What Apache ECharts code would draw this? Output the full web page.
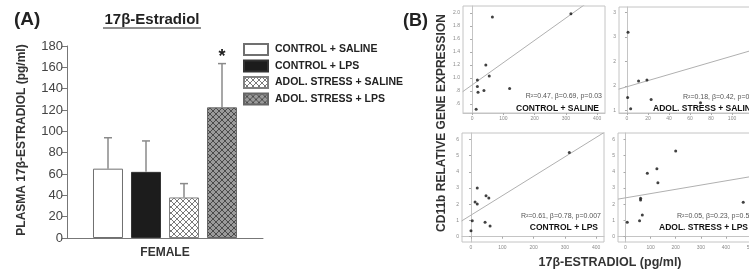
<!DOCTYPE html>
<html><head><meta charset="utf-8">
<script src="https://cdn.jsdelivr.net/npm/echarts@6/dist/echarts.min.js"></script>
<style>html,body{margin:0;padding:0;background:#fff;overflow:hidden}#c{width:800px;height:276px}</style>
</head><body><div id="c"></div>
<script>
// ---------- Panel A data ----------
const groups = ['CONTROL + SALINE', 'CONTROL + LPS', 'ADOL. STRESS + SALINE', 'ADOL. STRESS + LPS'];
const sexCategory = ['FEMALE'];
const estradiolMean = [65, 62, 38, 122.5];
const estradiolErr = [29, 29, 13, 41];
const significance = ['', '', '', '*'];

// ---------- Panel B data ----------
const ctrlSalineX = [65, 44, 17, 55, 17, 19, 38, 120, 13, 316];
const ctrlSalineY = [1.94, 1.20, 0.97, 1.03, 0.87, 0.78, 0.81, 0.84, 0.52, 1.99];
const stressSalineX = [1, 11, 19, 0.6, 23, 3.5, 70];
const stressSalineY = [2.60, 1.60, 1.62, 1.26, 1.22, 1.03, 1.15];
const ctrlLpsX = [314, 20, 48, 57, 13, 20, 4, 45, 61, 0];
const ctrlLpsY = [5.20, 3.00, 2.53, 2.39, 2.14, 2.02, 0.99, 0.89, 0.66, 0.37];
const stressLpsX = [200, 87, 125, 129, 60, 60, 67, 7, 56, 469];
const stressLpsY = [5.29, 3.91, 4.20, 3.33, 2.37, 2.27, 1.34, 0.89, 0.99, 2.12];

// fitted regression lines (end points)
const ctrlSalineFit = [[-30, 0.79], [430, 2.37]];
const stressSalineFit = [[-8, 1.43], [140, 2.36]];
const ctrlLpsFit = [[-30, 0.97], [430, 6.49]];
const stressLpsFit = [[-30, 2.32], [580, 3.92]];

const panelLabels = ['CONTROL + SALINE', 'ADOL. STRESS + SALINE', 'CONTROL + LPS', 'ADOL. STRESS + LPS'];
const statsLabels = ['R\u00b2=0.47, \u03b2=0.69, p=0.03', 'R\u00b2=0.18, \u03b2=0.42, p=0.02', 'R\u00b2=0.61, \u03b2=0.78, p=0.007', 'R\u00b2=0.05, \u03b2=0.23, p=0.53'];

// tick labels
const s1XTicks = [0, 100, 200, 300, 400];
const s1YTicks = [0.6, 0.8, 1.0, 1.2, 1.4, 1.6, 1.8, 2.0];
const s1YLabels = ['.6', '.8', '1.0', '1.2', '1.4', '1.6', '1.8', '2.0'];
const s2XTicks = [0, 20, 40, 60, 80, 100, 120];
const s2YTicks = [1.0, 1.5, 2.0, 2.5, 3.0];
const s2YLabels = ['1', '2', '2', '3', '3'];
const s3XTicks = [0, 100, 200, 300, 400];
const s3YTicks = [0, 1, 2, 3, 4, 5, 6];
const s4XTicks = [0, 100, 200, 300, 400, 500];
const s4YTicks = [0, 1, 2, 3, 4, 5, 6];

// ---------- helpers ----------
function hatch(bg, fg, size) {
  const c = document.createElement('canvas');
  c.width = c.height = size;
  const ctx = c.getContext('2d');
  ctx.fillStyle = bg; ctx.fillRect(0, 0, size, size);
  ctx.strokeStyle = fg; ctx.lineWidth = 1;
  ctx.beginPath();
  ctx.moveTo(0, 0); ctx.lineTo(size, size);
  ctx.moveTo(size, 0); ctx.lineTo(0, size);
  ctx.stroke();
  return c;
}
const fills = [
  '#ffffff',
  '#1c1c1c',
  { image: hatch('#ffffff', '#7a7a7a', 6), repeat: 'repeat' },
  { image: hatch('#9a9a9a', '#4a4a4a', 6), repeat: 'repeat' }
];
const borders = ['#707070', '#333333', '#808080', '#666666'];

const chart = echarts.init(document.getElementById('c'), null, { renderer: 'canvas' });
const FONT = 'Liberation Sans, Arial, sans-serif';

function scatterAxes(gi, xmin, xmax, ymin, ymax, xt, yt, ylab) {
  const lab = { fontSize: 5, color: '#8a8a8a', fontFamily: FONT, margin: 3 };
  return {
    x: {
      type: 'value', gridIndex: gi, min: xmin, max: xmax,
      axisLine: { show: true, lineStyle: { color: '#c4c4c4' } },
      axisTick: { show: true, length: 2, customValues: xt, lineStyle: { color: '#aaa' } },
      axisLabel: Object.assign({ customValues: xt, showMinLabel: true, showMaxLabel: true }, lab),
      splitLine: { show: false }
    },
    y: {
      type: 'value', gridIndex: gi, min: ymin, max: ymax,
      axisLine: { show: true, lineStyle: { color: '#c4c4c4' } },
      axisTick: { show: true, length: 2, customValues: yt, lineStyle: { color: '#aaa' } },
      axisLabel: Object.assign({ customValues: yt, formatter: function (v) {
        if (ylab) { const k = yt.findIndex(t => Math.abs(t - v) < 1e-6); return k >= 0 ? ylab[k] : ''; }
        return String(v);
      } }, lab),
      splitLine: { show: false }
    }
  };
}

const a1 = scatterAxes(1, -29, 425, 0.462, 2.108, s1XTicks, s1YTicks, s1YLabels);
const a2 = scatterAxes(2, -7.6, 135.2, 0.941, 3.117, s2XTicks, s2YTicks, s2YLabels);
const a3 = scatterAxes(3, -28.75, 424.9, -0.327, 6.40, s3XTicks, s3YTicks, null);
const a4 = scatterAxes(4, -29.9, 575.7, -0.327, 6.40, s4XTicks, s4YTicks, null);

const zip = (xs, ys) => xs.map((x, i) => [x, ys[i]]);

const series = [];
groups.forEach((g, i) => {
  series.push({
    name: g, type: 'bar', xAxisIndex: 0, yAxisIndex: 0,
    data: [estradiolMean[i]], barWidth: 30, barGap: '26.67%',
    itemStyle: { color: fills[i], borderColor: borders[i], borderWidth: 1 },
    z: 2
  });
});
series.push({
  type: 'custom', xAxisIndex: 0, yAxisIndex: 0, z: 5,
  data: estradiolMean.map((m, i) => [0, m, m + estradiolErr[i], i]),
  renderItem: function (params, api) {
    const i = api.value(3);
    const base = api.coord([0, api.value(1)]);
    const top = api.coord([0, api.value(2)]);
    const x = base[0] + (i - 1.5) * 38;
    const children = [
      { type: 'line', shape: { x1: x, y1: base[1], x2: x, y2: top[1] }, style: { stroke: '#8a8a8a', lineWidth: 1.5 } },
      { type: 'line', shape: { x1: x - 4, y1: top[1], x2: x + 4, y2: top[1] }, style: { stroke: '#8a8a8a', lineWidth: 1.5 } }
    ];
    if (significance[i]) {
      children.push({ type: 'text', x: x, y: top[1] - 7, style: { text: significance[i], font: 'bold 18px ' + FONT, fill: '#222', align: 'center', verticalAlign: 'middle' } });
    }
    return { type: 'group', children: children };
  }
});
const scatterSets = [[ctrlSalineX, ctrlSalineY, ctrlSalineFit], [stressSalineX, stressSalineY, stressSalineFit], [ctrlLpsX, ctrlLpsY, ctrlLpsFit], [stressLpsX, stressLpsY, stressLpsFit]];
scatterSets.forEach((s, k) => {
  series.push({ type: 'line', xAxisIndex: k + 1, yAxisIndex: k + 1, data: s[2], showSymbol: false, clip: true,
    lineStyle: { color: '#b0b0b0', width: 1 }, silent: true, z: 2 });
  series.push({ type: 'scatter', xAxisIndex: k + 1, yAxisIndex: k + 1, data: zip(s[0], s[1]), symbolSize: 3,
    itemStyle: { color: '#111' }, z: 3 });
});

const txt = (x, y, text, font, fill, align, rot) => ({
  type: 'text', x: x, y: y, rotation: rot || 0,
  style: { text: text, font: font, fill: fill, align: align || 'left', verticalAlign: 'middle' }
});

const option = {
  animation: false,
  backgroundColor: '#fff',
  grid: [
    { left: 67, top: 46, width: 196, height: 192 },
    { left: 463, top: 6, width: 142, height: 107, show: true, borderColor: '#c4c4c4', borderWidth: 1 },
    { left: 619, top: 7, width: 150, height: 106, show: true, borderColor: '#c4c4c4', borderWidth: 1 },
    { left: 462, top: 133, width: 142, height: 109, show: true, borderColor: '#c4c4c4', borderWidth: 1 },
    { left: 618, top: 133, width: 152, height: 109, show: true, borderColor: '#c4c4c4', borderWidth: 1 }
  ],
  legend: {
    data: groups, orient: 'vertical', left: 243, top: 43, itemWidth: 24, itemHeight: 11, itemGap: 3.5,
    icon: 'rect', padding: 0,
    textStyle: { fontFamily: FONT, fontSize: 10.5, fontWeight: 'bold', color: '#222', padding: [0, 0, 0, 2] }
  },
  xAxis: [
    { type: 'category', gridIndex: 0, data: sexCategory,
      axisLine: { lineStyle: { color: '#777', width: 1 } },
      axisTick: { alignWithLabel: true, length: 4, lineStyle: { color: '#777' } },
      axisLabel: { fontFamily: FONT, fontSize: 12, fontWeight: 'bold', color: '#333', margin: 9 } },
    a1.x, a2.x, a3.x, a4.x
  ],
  yAxis: [
    { type: 'value', gridIndex: 0, min: 0, max: 180, interval: 20,
      axisLine: { show: true, lineStyle: { color: '#777', width: 1 } },
      axisTick: { show: true, length: 5, lineStyle: { color: '#777' } },
      axisLabel: { fontFamily: FONT, fontSize: 13, color: '#444', margin: 4 },
      splitLine: { show: false } },
    a1.y, a2.y, a3.y, a4.y
  ],
  series: series,
  graphic: [
    txt(14, 20, '(A)', 'bold 19px ' + FONT, '#222'),
    txt(152, 20, '17\u03b2-Estradiol', 'bold 15px ' + FONT, '#222', 'center'),
    { type: 'line', shape: { x1: 103, y1: 28, x2: 201, y2: 28 }, style: { stroke: '#222', lineWidth: 1 } },
    txt(22, 140, 'PLASMA 17\u03b2-ESTRADIOL (pg/ml)', 'bold 12px ' + FONT, '#333', 'center', Math.PI / 2),
    txt(403, 21, '(B)', 'bold 18px ' + FONT, '#222'),
    txt(442, 123, 'CD11b RELATIVE GENE EXPRESSION', 'bold 12px ' + FONT, '#333', 'center', Math.PI / 2),
    txt(610, 263, '17\u03b2-ESTRADIOL (pg/ml)', 'bold 12.5px ' + FONT, '#333', 'center'),
    txt(602, 96, statsLabels[0], '7px ' + FONT, '#555', 'right'),
    txt(599, 109, panelLabels[0], 'bold 8.5px ' + FONT, '#111', 'right'),
    txt(683, 97, statsLabels[1], '7px ' + FONT, '#555', 'left'),
    txt(653, 109, panelLabels[1], 'bold 8.5px ' + FONT, '#111', 'left'),
    txt(601, 216, statsLabels[2], '7px ' + FONT, '#555', 'right'),
    txt(598, 228, panelLabels[2], 'bold 8.5px ' + FONT, '#111', 'right'),
    txt(677, 216, statsLabels[3], '7px ' + FONT, '#555', 'left'),
    txt(659, 228, panelLabels[3], 'bold 8.5px ' + FONT, '#111', 'left')
  ]
};
chart.setOption(option);
</script>
</body></html>
